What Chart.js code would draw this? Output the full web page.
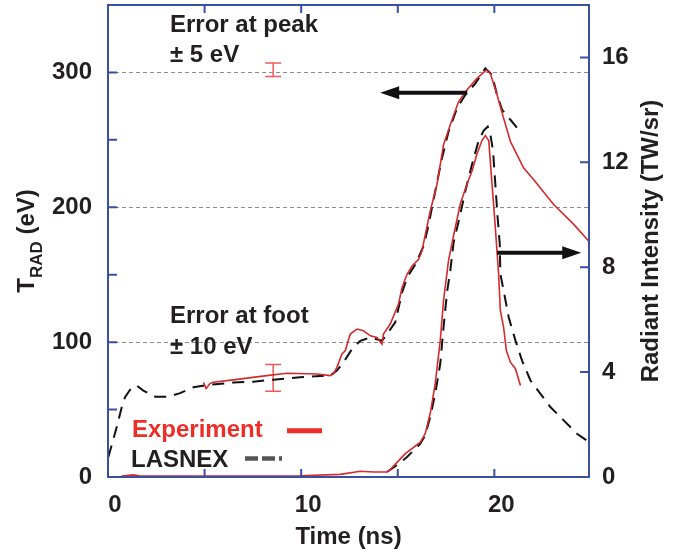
<!DOCTYPE html>
<html>
<head>
<meta charset="utf-8">
<script src="https://cdn.jsdelivr.net/npm/chart.js@4.4.0/dist/chart.umd.min.js"></script>
<style>
  html, body { margin: 0; padding: 0; background: #fff; }
</style>
</head>
<body>
<canvas id="grafico" width="689" height="553"></canvas>
<script>
// Experimento - temperatura de radiacion (eje izquierdo, eV)
const tiempoExpT = [4.94, 5.08, 5.28, 5.44, 6.48, 8.22, 9.26, 10.81, 11.50, 11.67, 11.85, 12.11, 12.28, 12.54, 12.89, 13.23, 13.58, 13.92, 14.18, 14.26, 14.61, 15.04, 15.22, 15.48, 15.74, 16.08, 16.25, 16.68, 17.03, 17.37, 17.72, 18.15, 18.59, 19.10, 19.59, 19.79, 20.14, 20.48, 20.83, 21.52, 22.04, 23.07, 24.11, 24.89]
const tradExp = [70.2, 65.6, 69.3, 70.2, 72.0, 75.2, 76.9, 76.4, 75.2, 76.4, 81.3, 91.2, 93.6, 106.0, 109.7, 108.4, 104.7, 103.5, 98.6, 106.0, 113.4, 128.2, 140.4, 150.3, 156.5, 161.4, 167.6, 197.1, 216.9, 246.4, 261.2, 278.4, 287.1, 295.6, 301.8, 299.3, 283.4, 266.1, 248.9, 229.1, 220.5, 202.1, 187.3, 174.9]

// LASNEX - temperatura de radiacion
const tiempoLasT = [0.02, 0.45, 0.71, 0.88, 1.23, 1.49, 1.83, 2.44, 3.12, 3.73, 4.42, 5.28, 6.49, 7.53, 8.56, 9.95, 10.81, 11.50, 11.85, 12.19, 12.63, 13.06, 13.58, 14.18, 14.44, 14.87, 15.22, 15.48, 15.91, 16.34, 16.60, 16.94, 17.29, 17.63, 18.07, 18.50, 19.02, 19.53, 19.88, 20.14, 20.40, 20.83, 21.26]
const tradLas = [14.8, 37.0, 51.7, 59.1, 66.5, 67.8, 64.1, 59.6, 59.6, 62.2, 66.5, 68.5, 70.0, 70.7, 72.2, 73.9, 74.8, 75.2, 78.9, 85.0, 94.9, 101.0, 103.5, 101.0, 106.0, 114.6, 136.7, 147.8, 157.7, 171.3, 187.3, 211.9, 236.5, 256.2, 273.5, 283.4, 291.9, 303.0, 298.2, 283.4, 272.3, 264.9, 257.5]

// Experimento - intensidad radiante (eje derecho, TW/sr)
const tiempoExpI = [0.71, 1.31, 1.66, 9.95, 12.02, 13.06, 13.75, 14.44, 14.61, 15.39, 16.17, 16.42, 16.68, 16.94, 17.20, 17.37, 17.63, 17.89, 18.24, 18.59, 18.85, 19.10, 19.36, 19.53, 19.71, 19.88, 20.05, 20.22, 20.31, 20.48, 20.62, 20.83, 21.09, 21.35]
const intExp = [0.04, 0.08, 0.04, 0.05, 0.10, 0.22, 0.19, 0.19, 0.28, 0.89, 1.33, 1.65, 2.42, 3.56, 5.21, 6.73, 8.26, 9.21, 10.42, 11.18, 11.68, 12.32, 12.83, 13.02, 12.83, 11.18, 9.52, 7.75, 6.35, 5.71, 4.83, 4.38, 4.13, 3.49]

// LASNEX - intensidad radiante
const tiempoLasI = [14.44, 14.96, 15.48, 16.17, 16.42, 16.68, 16.94, 17.20, 17.37, 17.55, 17.72, 17.89, 18.24, 18.50, 18.85, 19.19, 19.45, 19.66, 19.79, 19.93, 20.05, 20.17, 20.28, 20.31, 20.48, 20.74, 21.09, 21.43, 21.87, 22.38, 22.90, 23.59, 24.28, 24.90]
const intLas = [0.19, 0.45, 0.76, 1.27, 1.59, 2.29, 3.18, 4.32, 5.71, 7.04, 7.87, 8.94, 10.03, 10.92, 11.94, 12.83, 13.21, 13.36, 13.08, 12.45, 11.18, 9.90, 8.89, 7.75, 7.11, 6.10, 5.21, 4.45, 3.68, 3.18, 2.67, 2.16, 1.65, 1.33]

// Barras de error (pico y pie)
const errorTiempo = [8.55, 8.55]
const errorCentro = [302, 73.5]
const errorMedio = [5, 10]

// Etiquetas de los ejes
const etiquetasT = [0, 100, 200, 300]
const etiquetasI = [0, 4, 8, 12, 16]
const etiquetasTiempo = [0, 10, 20]

const azul = '#3a4ea2'
const rojo = '#d42a2e'
const texto = '#231f20'
const fuente = '"Liberation Sans", Arial, sans-serif'
const fuenteGrande = 'bold 24px ' + fuente
const fuenteSub = 'bold 17px ' + fuente

const aPuntos = (xs, ys) => xs.map((t, i) => ({ x: t, y: ys[i] }))

const barraError = (t, c, e) => {
    const m = 0.41
    return [
        { x: t - m, y: c - e }, { x: t + m, y: c - e }, { x: t, y: null },
        { x: t, y: c - e }, { x: t, y: c + e }, { x: t, y: null },
        { x: t - m, y: c + e }, { x: t + m, y: c + e }
    ]
}

const datosError = errorTiempo.map((t, i) => ({
    data: barraError(t, errorCentro[i], errorMedio[i]),
    yAxisID: 'yT', borderColor: '#ef5a58', borderWidth: 1.5, spanGaps: false
}))

// quitar el relleno que Chart.js reserva para las etiquetas extremas
const sinRelleno = s => {
    s.paddingTop = 0; s.paddingBottom = 0; s.paddingLeft = 0; s.paddingRight = 0
}

// Marco, marcas interiores, textos y flechas
const decoraciones = {
    id: 'decoraciones',
    afterDraw(chart) {
        const { ctx, chartArea: a, scales: { x, yT, yI } } = chart
        ctx.save()

        // marco azul
        ctx.strokeStyle = azul
        ctx.lineWidth = 2
        ctx.strokeRect(a.left, a.top, a.right - a.left, a.bottom - a.top)

        // marcas hacia dentro
        ctx.beginPath()
        for (let v = 5; v < x.max; v += 5) {
            const px = x.getPixelForValue(v)
            ctx.moveTo(px, a.bottom); ctx.lineTo(px, a.bottom - 8)
            ctx.moveTo(px, a.top); ctx.lineTo(px, a.top + 8)
        }
        for (let v = 50; v < yT.max; v += 50) {
            const py = yT.getPixelForValue(v)
            ctx.moveTo(a.left, py); ctx.lineTo(a.left + 9, py)
        }
        for (let v = 4; v < yI.max; v += 4) {
            const py = yI.getPixelForValue(v)
            ctx.moveTo(a.right, py); ctx.lineTo(a.right - 9, py)
        }
        ctx.stroke()

        // textos
        ctx.fillStyle = texto
        ctx.textBaseline = 'alphabetic'
        ctx.textAlign = 'left'
        ctx.font = fuenteGrande
        ctx.fillText('Error at peak', 170, 31.7)
        ctx.fillText('\u00b1 5 eV', 170, 61.7)
        ctx.fillText('Error at foot', 170, 323.3)
        ctx.fillText('\u00b1 10 eV', 170, 354)
        ctx.fillText('LASNEX', 131, 467.3)
        ctx.fillStyle = '#ee2d27'
        ctx.fillText('Experiment', 132, 436.7)

        // muestras de la leyenda
        ctx.strokeStyle = '#ee2d27'
        ctx.lineWidth = 5
        ctx.beginPath(); ctx.moveTo(287, 430.7); ctx.lineTo(322, 430.7); ctx.stroke()
        ctx.strokeStyle = '#555'
        ctx.lineWidth = 4.5
        ctx.setLineDash([13, 4])
        ctx.beginPath(); ctx.moveTo(245, 458.5); ctx.lineTo(282, 458.5); ctx.stroke()
        ctx.setLineDash([])

        // titulo eje x
        ctx.fillStyle = texto
        ctx.textAlign = 'center'
        ctx.fillText('Time (ns)', (a.left + a.right) / 2, 544)

        // titulo eje izquierdo con subindice
        ctx.textAlign = 'left'
        ctx.font = fuenteGrande
        const wT = ctx.measureText('T').width
        const wResto = ctx.measureText(' (eV)').width
        ctx.font = fuenteSub
        const wSub = ctx.measureText('RAD').width
        const total = wT + wSub + wResto
        const centro = (a.top + a.bottom) / 2
        ctx.save()
        ctx.translate(34, centro + total / 2)
        ctx.rotate(-Math.PI / 2)
        ctx.font = fuenteGrande
        ctx.fillText('T', 0, 0)
        ctx.font = fuenteSub
        ctx.fillText('RAD', wT, 7.5)
        ctx.font = fuenteGrande
        ctx.fillText(' (eV)', wT + wSub, 0)
        ctx.restore()

        // titulo eje derecho
        ctx.save()
        ctx.font = fuenteGrande
        ctx.translate(658, centro)
        ctx.rotate(-Math.PI / 2)
        ctx.textAlign = 'center'
        ctx.fillText('Radiant Intensity (TW/sr)', 0, 0)
        ctx.restore()

        // flechas
        const flecha = (x1, x2, py) => {
            const dir = Math.sign(x2 - x1)
            ctx.strokeStyle = '#111'
            ctx.fillStyle = '#111'
            ctx.lineWidth = 4
            ctx.beginPath(); ctx.moveTo(x1, py); ctx.lineTo(x2 - dir * 14, py); ctx.stroke()
            ctx.beginPath()
            ctx.moveTo(x2, py)
            ctx.lineTo(x2 - dir * 19, py - 6.5)
            ctx.lineTo(x2 - dir * 19, py + 6.5)
            ctx.closePath(); ctx.fill()
        }
        flecha(x.getPixelForValue(18.6), x.getPixelForValue(14.09), yT.getPixelForValue(285))
        flecha(x.getPixelForValue(20.14), x.getPixelForValue(24.5), yI.getPixelForValue(8.55))

        ctx.restore()
    }
}

const ctxGrafico = document.getElementById('grafico')

new Chart(ctxGrafico, {
    type: 'line',
    data: {
        datasets: [
            { data: aPuntos(tiempoExpT, tradExp), yAxisID: 'yT', borderColor: rojo, borderWidth: 1.6 },
            { data: aPuntos(tiempoLasT, tradLas), yAxisID: 'yT', borderColor: '#111', borderWidth: 2, borderDash: [12, 8] },
            { data: aPuntos(tiempoExpI, intExp), yAxisID: 'yI', borderColor: rojo, borderWidth: 1.6 },
            { data: aPuntos(tiempoLasI, intLas), yAxisID: 'yI', borderColor: '#111', borderWidth: 2, borderDash: [12, 8] },
            ...datosError
        ]
    },
    options: {
        responsive: false,
        animation: false,
        devicePixelRatio: 1,
        layout: { padding: { top: 5, right: 0, bottom: 0, left: 0 } },
        plugins: { legend: { display: false }, tooltip: { enabled: false } },
        elements: { point: { radius: 0 }, line: { tension: 0 } },
        scales: {
            x: {
                type: 'linear', min: 0, max: 24.9,
                afterFit: s => { s.height = 76; sinRelleno(s) },
                grid: { display: false, drawTicks: false },
                border: { display: false },
                ticks: {
                    stepSize: 5, autoSkip: false, maxRotation: 0, labelOffset: 7, padding: 14,
                    color: texto, font: { family: fuente, size: 24, weight: 'bold' },
                    callback: v => etiquetasTiempo.includes(v) ? String(v) : ''
                }
            },
            yT: {
                position: 'left', min: 0, max: 350,
                afterFit: s => { s.width = 108; sinRelleno(s) },
                grid: {
                    drawTicks: false, lineWidth: 1,
                    color: c => (c.tick && c.tick.value > 0 && etiquetasT.includes(c.tick.value)) ? '#8c8c8c' : 'rgba(0,0,0,0)'
                },
                border: { display: false, dash: [4, 3] },
                ticks: {
                    stepSize: 50, padding: 16, autoSkip: false,
                    color: texto, font: { family: fuente, size: 24, weight: 'bold' },
                    callback: v => etiquetasT.includes(v) ? String(v) : ''
                }
            },
            yI: {
                position: 'right', min: 0, max: 18,
                afterFit: s => { s.width = 100; sinRelleno(s) },
                grid: { display: false, drawTicks: false },
                border: { display: false },
                ticks: {
                    stepSize: 4, padding: 13, autoSkip: false,
                    color: texto, font: { family: fuente, size: 24, weight: 'bold' },
                    callback: v => etiquetasI.includes(v) ? String(v) : ''
                }
            }
        }
    },
    plugins: [decoraciones]
})
</script>
</body>
</html>
